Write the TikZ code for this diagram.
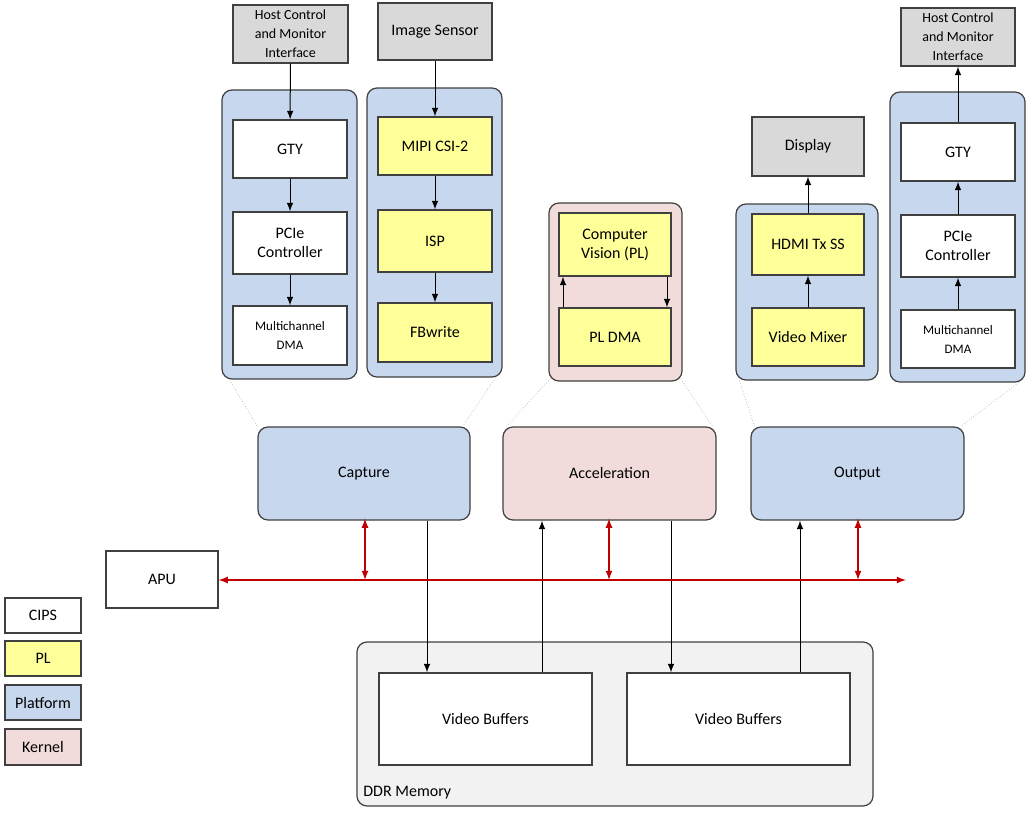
\documentclass[tikz,border=0pt]{standalone}
\usepackage{fontspec}
\setmainfont{Carlito}
\usetikzlibrary{arrows.meta}
\definecolor{platblue}{HTML}{C6D7EE}
\definecolor{kernpink}{HTML}{F1DCDB}
\definecolor{plyellow}{HTML}{FFFF99}
\definecolor{hostgray}{HTML}{D9D9D9}
\definecolor{ddrgray}{HTML}{F2F2F2}
\definecolor{busred}{HTML}{C00000}
\tikzset{>=latex}
\tikzset{
  blk/.style={draw=black!75, line width=0.6pt, font=\fontsize{8}{9.5}\selectfont, align=center, inner sep=1pt},
  cips/.style={blk, fill=white},
  pl/.style={blk, fill=plyellow},
  host/.style={blk, fill=hostgray},
  plat/.style={blk, fill=platblue, rounded corners=5pt},
  kern/.style={blk, fill=kernpink, rounded corners=5pt},
  flow/.style={->, black, line width=0.5pt},
  bus/.style={<->, busred, line width=0.6pt},
  zoomln/.style={gray!50, densely dotted, line width=0.4pt}
}
% box: name, centre x, centre y, width, height (in px), style, text
\newcommand{\bx}[7]{\node[#6, minimum width=#4*0.5pt, minimum height=#5*0.5pt] (#1) at (#2,#3) {#7};}
\begin{document}
\begin{tikzpicture}[x=0.5pt, y=-0.5pt]
\useasboundingbox (0,0) rectangle (1028,813);

% platform / kernel frames
\bx{frcap}{289.5}{234.5}{135}{289}{plat}{}
\bx{frsen}{434.5}{232.5}{135}{289}{plat}{}
\bx{fracc}{615.5}{292}{133}{178}{kern}{}
\bx{frhdmi}{807}{292}{142}{176}{plat}{}
\bx{frout}{957.5}{237}{135}{290}{plat}{}

% capture side
\bx{hostA}{290.5}{34}{115}{58}{host}{\fontsize{7}{9}\selectfont Host Control\\ \fontsize{7}{9}\selectfont and Monitor\\ \fontsize{7}{9}\selectfont Interface}
\bx{gtyA}{290}{149}{114}{58}{cips}{GTY}
\bx{pcieA}{290}{243}{114}{62}{cips}{PCIe\\Controller}
\bx{dmaA}{290}{335.5}{114}{59}{cips}{\fontsize{6.5}{8.5}\selectfont Multichannel\\ \fontsize{6.5}{8.5}\selectfont DMA}
\bx{sensor}{435}{31.5}{114}{57}{host}{Image Sensor}
\bx{mipi}{435}{146}{114}{58}{pl}{MIPI CSI-2}
\bx{isp}{435}{241}{114}{62}{pl}{ISP}
\bx{fbw}{435}{332.5}{114}{59}{pl}{FBwrite}

% acceleration
\bx{cv}{615}{244.5}{112}{63}{pl}{Computer\\Vision (PL)}
\bx{pldma}{615}{337}{112}{58}{pl}{PL DMA}

% output side
\bx{disp}{808}{146.5}{112}{59}{host}{Display}
\bx{hdmi}{808}{244.5}{112}{61}{pl}{HDMI Tx SS}
\bx{mixer}{808}{337}{112}{58}{pl}{Video Mixer}
\bx{hostB}{958}{37}{114}{58}{host}{\fontsize{7}{9}\selectfont Host Control\\ \fontsize{7}{9}\selectfont and Monitor\\ \fontsize{7}{9}\selectfont Interface}
\bx{gtyB}{958}{152}{114}{58}{cips}{GTY}
\bx{pcieB}{958}{246}{114}{62}{cips}{PCIe\\Controller}
\bx{dmaB}{958}{339}{114}{58}{cips}{\fontsize{6.5}{8.5}\selectfont Multichannel\\ \fontsize{6.5}{8.5}\selectfont DMA}

% top-level blocks
\bx{capture}{364}{473.5}{212}{93}{plat}{Capture}
\bx{accel}{609.5}{473.5}{213}{93}{kern}{Acceleration}
\bx{output}{857.5}{473.5}{213}{93}{plat}{Output}
\bx{apu}{162}{579.5}{112}{57}{cips}{APU}

% memory
\bx{ddr}{615}{724}{516}{164}{blk, fill=ddrgray, rounded corners=5pt}{}
\node[font=\fontsize{8}{9.5}\selectfont, anchor=south west, inner sep=0pt] (ddrlbl) at (363,799) {DDR Memory};
\bx{vbA}{485.5}{719}{213}{92}{cips}{Video Buffers}
\bx{vbB}{738.5}{719}{223}{92}{cips}{Video Buffers}

% legend
\bx{lgcips}{43}{615.5}{76}{35}{cips}{CIPS}
\bx{lgpl}{43}{658.5}{76}{35}{pl}{PL}
\bx{lgplat}{43}{702.5}{76}{35}{blk, fill=platblue}{Platform}
\bx{lgkern}{43}{747}{76}{36}{blk, fill=kernpink}{Kernel}

% zoom lines
\draw[zoomln] (frcap.south west) ++(8,0) -- (capture.north west);
\draw[zoomln] (frsen.south east) ++(-7,0) -- ([xshift=-4]capture.north east);
\draw[zoomln] (fracc.south west) ++(2,-3) -- ([xshift=2]accel.north west);
\draw[zoomln] (fracc.south east) ++(-2,-3) -- ([xshift=-2]accel.north east);
\draw[zoomln] (frhdmi.south west) ++(4,0) -- ([xshift=2]output.north west);
\draw[zoomln] (frout.south east) ++(-7,0) -- ([xshift=-2]output.north east);

% chains
\draw[flow] (hostA) -- (gtyA);
\draw[flow] (gtyA) -- (pcieA);
\draw[flow] (pcieA) -- (dmaA);
\draw[flow] (sensor) -- (mipi);
\draw[flow] (mipi) -- (isp);
\draw[flow] (isp) -- (fbw);
\draw[flow] ([xshift=26]cv.south) -- ([xshift=26]pldma.north);
\draw[flow] ([xshift=-26]pldma.north) -- ([xshift=-26]cv.south);
\draw[flow] (mixer) -- (hdmi);
\draw[flow] (hdmi) -- (disp);
\draw[flow] (dmaB) -- (pcieB);
\draw[flow] (pcieB) -- (gtyB);
\draw[flow] (gtyB) -- (hostB);

% memory traffic
\draw[flow] (capture.south -| 427,0) -- (vbA.north -| 427,0);
\draw[flow] (vbA.north -| 542,0) -- (accel.south -| 542,0);
\draw[flow] (accel.south -| 671,0) -- (vbB.north -| 671,0);
\draw[flow] (vbB.north -| 800,0) -- (output.south -| 800,0);

% system bus
\coordinate (busend) at (906,580);
\draw[bus] (apu.east |- busend) -- (busend);
\draw[bus] ([yshift=1]capture.south -| 365,0) -- (365,580);
\draw[bus] ([yshift=1]accel.south -| 609,0) -- (609,580);
\draw[bus] ([yshift=1]output.south -| 858,0) -- (858,580);
\end{tikzpicture}
\end{document}
